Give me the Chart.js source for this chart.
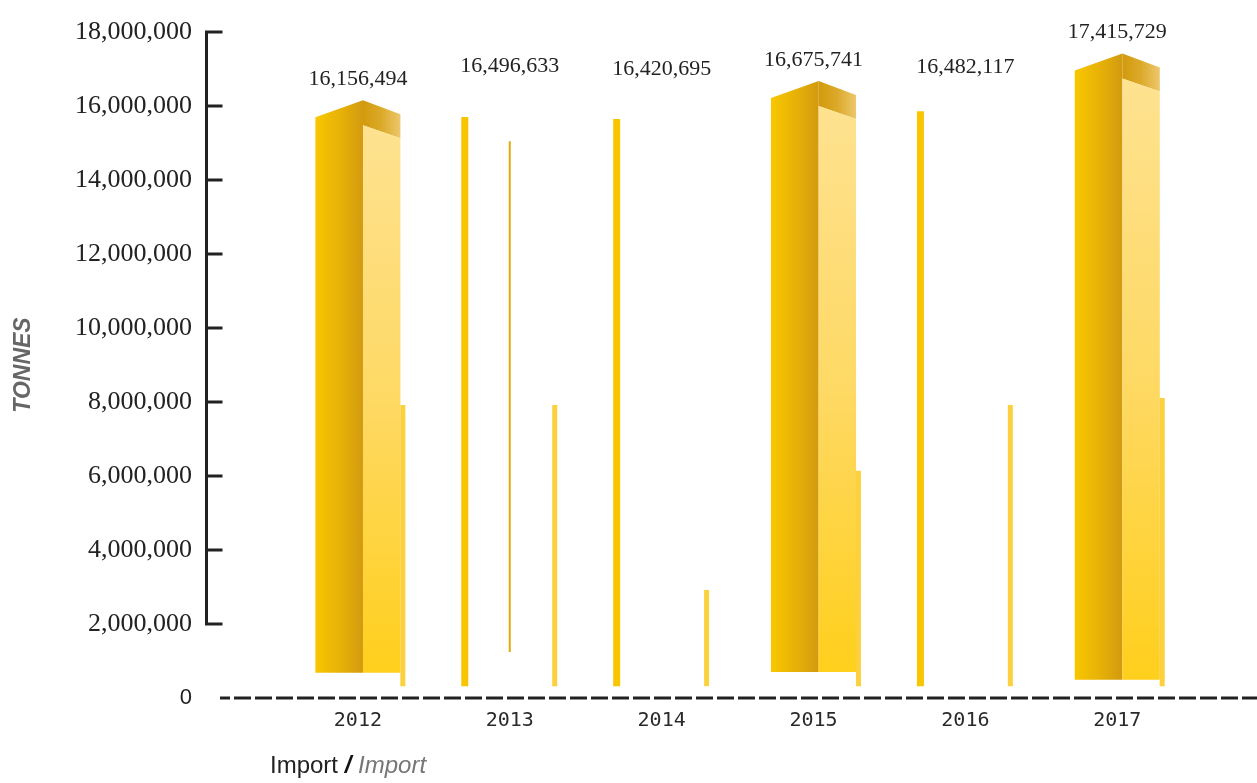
<!DOCTYPE html>
<html>
<head>
<meta charset="utf-8">
<script src="https://cdn.jsdelivr.net/npm/chart.js@4.4.0/dist/chart.umd.min.js"></script>
<style>
  html, body { margin: 0; padding: 0; background: #fff; }
  #wrap { position: relative; width: 1257px; height: 783px; }
  #legend {
    position: absolute; left: 270px; top: 751px;
    font: 24px "Liberation Sans", Arial, sans-serif; color: #222; white-space: nowrap;
  }
  #legend b { font-style: italic; font-weight: 900; color: #111; }
  #legend i { color: #777; }
</style>
</head>
<body>
<div id="wrap">
  <canvas id="importChart" width="1257" height="783"></canvas>
  <div id="legend">Import <b>/</b> <i>Import</i></div>
</div>
<script>
// ═══════════════════════════════════════════════════
//  Import tonnages 2012–2017 — bar chart
// ═══════════════════════════════════════════════════

const YEARS  = [2012, 2013, 2014, 2015, 2016, 2017];
const TOTALS = [16156494, 16496633, 16420695, 16675741, 16482117, 17415729];

// 3D blocks (top of block = total)
const BLOCK_LOW   = [680000, null, null, 700000, null, 490000];
// thin pillars left of centre
const PILLAR_LOW  = [null, 320000, 320000, null, 320000, null];
const PILLAR_HIGH = [null, 15700000, 15650000, null, 15860000, null];
// hairline in the middle
const MID_LOW     = [null, 1240000, null, null, null, null];
const MID_HIGH    = [null, 15050000, null, null, null, null];
// thin bars right of centre
const SIDE_LOW    = [320000, 320000, 320000, 320000, 320000, 320000];
const SIDE_HIGH   = [7920000, 7920000, 2920000, 6140000, 7920000, 8110000];

const Y_MAX  = 18000000;
const Y_STEP = 2000000;
const AXIS_FLOOR = 2000000;   // y axis line and tick marks stop here

const range = (lo, hi) => lo.map((v, i) => (v == null ? null : [v, hi[i]]));

// gold 3D block drawn inside the bar element's box
function drawBlock(ctx, left, right, top, bottom) {
  const split = left + (right - left) * 0.56;

  let g = ctx.createLinearGradient(left, 0, split, 0);
  g.addColorStop(0, '#f9c700');
  g.addColorStop(0.6, '#e4ae08');
  g.addColorStop(1, '#d29a10');
  ctx.fillStyle = g;
  ctx.beginPath();
  ctx.moveTo(left, top + 17);
  ctx.lineTo(split, top);
  ctx.lineTo(split, bottom);
  ctx.lineTo(left, bottom);
  ctx.closePath();
  ctx.fill();

  g = ctx.createLinearGradient(split, 0, right, 0);
  g.addColorStop(0, '#d29a0c');
  g.addColorStop(0.5, '#dcaa2a');
  g.addColorStop(1, '#ecc76c');
  ctx.fillStyle = g;
  ctx.beginPath();
  ctx.moveTo(split, top);
  ctx.lineTo(right, top + 14);
  ctx.lineTo(right, top + 38);
  ctx.lineTo(split, top + 25);
  ctx.closePath();
  ctx.fill();

  g = ctx.createLinearGradient(0, top + 25, 0, bottom);
  g.addColorStop(0, '#fee290');
  g.addColorStop(0.5, '#fed964');
  g.addColorStop(1, '#ffcf1c');
  ctx.fillStyle = g;
  ctx.beginPath();
  ctx.moveTo(split, top + 25);
  ctx.lineTo(right, top + 38);
  ctx.lineTo(right, bottom);
  ctx.lineTo(split, bottom);
  ctx.closePath();
  ctx.fill();
}

const blockPlugin = {
  id: 'blocks',
  beforeDatasetsDraw(chart) {
    const meta = chart.getDatasetMeta(3);
    const ctx = chart.ctx;
    ctx.save();
    meta.data.forEach((bar, i) => {
      if (BLOCK_LOW[i] == null) return;
      const { x, y, base, width } = bar.getProps(['x', 'y', 'base', 'width'], true);
      drawBlock(ctx, x - width / 2, x + width / 2, y, base);
    });
    ctx.restore();
  }
};

const decorPlugin = {
  id: 'decor',
  afterDraw(chart) {
    const { ctx, chartArea, scales: { x, y } } = chart;
    ctx.save();
    ctx.strokeStyle = '#222';
    ctx.lineWidth = 3;

    // y axis line + inward tick marks, down to the 2,000,000 tick
    const ax = y.right + 0.5;
    ctx.beginPath();
    ctx.moveTo(ax, y.getPixelForValue(Y_MAX) - 1.5);
    ctx.lineTo(ax, y.getPixelForValue(AXIS_FLOOR) + 1.5);
    y.ticks.forEach(t => {
      if (t.value < AXIS_FLOOR) return;
      const py = y.getPixelForValue(t.value);
      ctx.moveTo(ax - 1.5, py);
      ctx.lineTo(ax + 16, py);
    });
    ctx.stroke();

    // dashed baseline at zero
    const y0 = y.getPixelForValue(0);
    ctx.setLineDash([17, 4]);
    ctx.lineDashOffset = -14;
    ctx.beginPath();
    ctx.moveTo(chartArea.left + 14, y0);
    ctx.lineTo(chartArea.right, y0);
    ctx.stroke();
    ctx.setLineDash([]);

    // value labels
    ctx.fillStyle = '#222';
    ctx.font = '22px "Liberation Serif", "Times New Roman", serif';
    ctx.textAlign = 'center';
    ctx.textBaseline = 'middle';
    TOTALS.forEach((v, i) => {
      ctx.fillText(v.toLocaleString('en-US'), x.getPixelForValue(YEARS[i]), y.getPixelForValue(v) - 21);
    });
    ctx.restore();
  }
};

const slot = { categoryPercentage: 0.888, barPercentage: 1 };

new Chart(document.getElementById('importChart'), {
  type: 'bar',
  data: {
    labels: YEARS,
    datasets: [
      { label: 'pillar', data: range(PILLAR_LOW, PILLAR_HIGH), backgroundColor: '#f9c500', maxBarThickness: 7, ...slot },
      { label: 'mid', data: range(MID_LOW, MID_HIGH), backgroundColor: '#e2a90e', maxBarThickness: 2, ...slot },
      { label: 'side', data: range(SIDE_LOW, SIDE_HIGH), backgroundColor: '#fdd03e', maxBarThickness: 5, ...slot },
      {
        label: 'Import',
        data: range(BLOCK_LOW, TOTALS),
        backgroundColor: 'rgba(0,0,0,0)',
        grouped: false,
        categoryPercentage: 1,
        barPercentage: 0.56,
      },
    ]
  },
  options: {
    responsive: false,
    animation: false,
    layout: { padding: { left: 6, top: 32, right: 0, bottom: 40 } },
    plugins: {
      legend: { display: false },
      tooltip: { enabled: false },
    },
    scales: {
      x: {
        type: 'linear',
        min: 2011,
        max: 2017.92,
        offset: false,
        afterFit: s => { s.height = 45; },
        ticks: {
          stepSize: 1,
          includeBounds: false,
          padding: 11,
          color: '#2a2a2a',
          font: { family: 'DejaVu Sans Mono', size: 20 },
          callback: v => (YEARS.includes(v) ? String(v) : ''),
        },
        grid: { display: false, drawTicks: false },
        border: { display: false },
      },
      y: {
        min: 0,
        max: Y_MAX,
        stacked: false,
        afterFit: s => { s.width = 200; },
        ticks: {
          stepSize: Y_STEP,
          padding: 14,
          color: '#222',
          font: c => (c.tick && c.tick.value === 0
            ? { family: 'Liberation Sans', size: 22 }
            : { family: 'Liberation Serif', size: 26 }),
          callback: v => v.toLocaleString('en-US'),
        },
        grid: { display: false, drawTicks: false },
        border: { display: false },
        title: {
          display: true,
          text: 'TONNES',
          color: '#666',
          padding: { top: 4, bottom: 0 },
          font: { family: 'Liberation Sans', size: 23, style: 'italic', weight: 'bold' },
        },
      }
    }
  },
  plugins: [blockPlugin, decorPlugin]
});
</script>
</body>
</html>
